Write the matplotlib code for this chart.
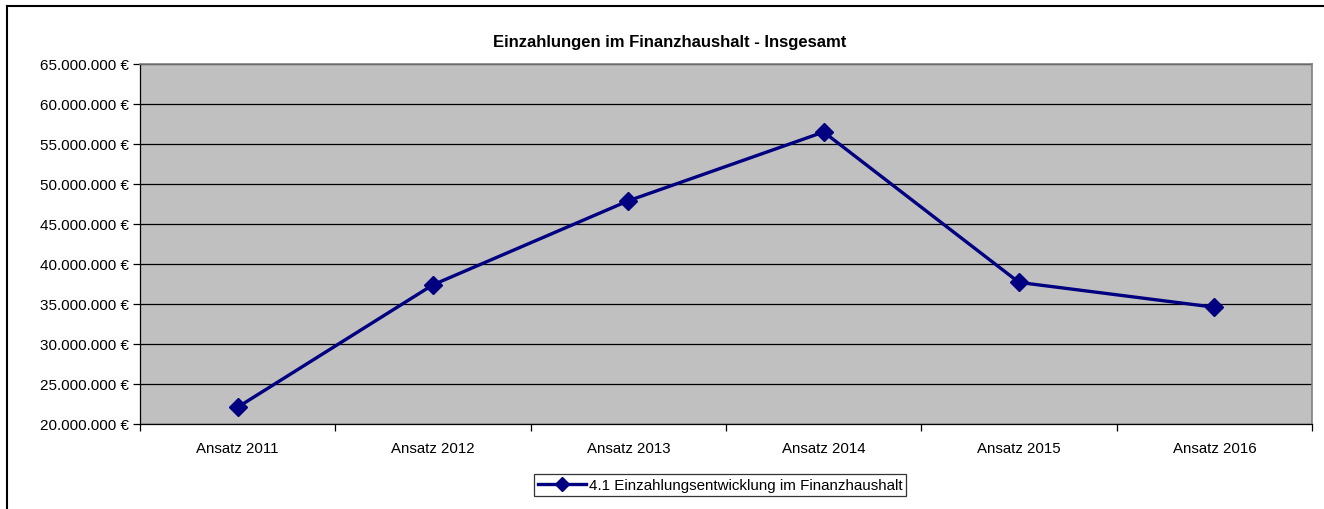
import numpy as np
import matplotlib
matplotlib.use("Agg")
import matplotlib.pyplot as plt
from matplotlib.lines import Line2D
from matplotlib.ticker import FuncFormatter

plt.rcParams["font.family"] = ["Liberation Sans", "DejaVu Sans"]

categories = ["Ansatz 2011", "Ansatz 2012", "Ansatz 2013",
              "Ansatz 2014", "Ansatz 2015", "Ansatz 2016"]
einzahlungen = [22100000, 37400000, 47900000, 56500000, 37700000, 34600000]
series_label = "4.1 Einzahlungsentwicklung im Finanzhaushalt"

fig = plt.figure(figsize=(13.24, 5.10), dpi=100)
ax = fig.add_axes([140 / 1324, 1 - 425 / 510, 1172 / 1324, 360 / 510])
ax.set_facecolor("#C0C0C0")

x = np.arange(len(categories))
ax.plot(x, einzahlungen, color="#000080", lw=2.4, marker="D", ms=9.5,
        label=series_label, zorder=3)

ax.set_xlim(-0.5, len(categories) - 0.5)
ax.set_ylim(20000000, 65000000)
ax.set_yticks(np.arange(20000000, 65000001, 5000000))
ax.yaxis.set_major_formatter(FuncFormatter(lambda v, p: f"{int(v):,} €".replace(",", ".")))
ax.yaxis.grid(True, color="black", lw=0.9)
ax.set_axisbelow(True)

ax.set_xticks(x)
ax.set_xticklabels(categories)
ax.set_xticks(np.arange(-0.5, len(categories)), minor=True)
ax.tick_params(axis="x", which="major", length=0, pad=12, labelsize=10.8)
ax.tick_params(axis="x", which="minor", length=5, direction="out", width=0.9)
ax.tick_params(axis="y", length=5, direction="out", width=0.9, labelsize=11, pad=3)

for s in ["left", "bottom"]:
    ax.spines[s].set_color("black")
    ax.spines[s].set_linewidth(0.9)
for s in ["top", "right"]:
    ax.spines[s].set_color("#808080")
    ax.spines[s].set_linewidth(1.2)

fig.text(670 / 1324, 1 - 42 / 510, "Einzahlungen im Finanzhaushalt - Insgesamt",
         ha="center", va="center", fontsize=12, fontweight="bold")

leg = fig.legend(loc="center", bbox_to_anchor=(720 / 1324, 1 - 486 / 510),
                 frameon=True, fancybox=False, fontsize=10.9, handlelength=3.2,
                 borderpad=0.25, borderaxespad=0, handletextpad=0.15,
                 markerscale=0.7)
leg.get_frame().set_edgecolor("black")
leg.get_frame().set_linewidth(0.9)

# outer chart border (only left and top visible in the crop)
fig.add_artist(Line2D([7 / 1324, 7 / 1324], [0, 1 - 7 / 510], color="black", lw=1.5,
                      transform=fig.transFigure))
fig.add_artist(Line2D([7 / 1324, 1], [1 - 7 / 510, 1 - 7 / 510], color="black", lw=1.5,
                      transform=fig.transFigure))

fig.savefig("out.png", dpi=100)
